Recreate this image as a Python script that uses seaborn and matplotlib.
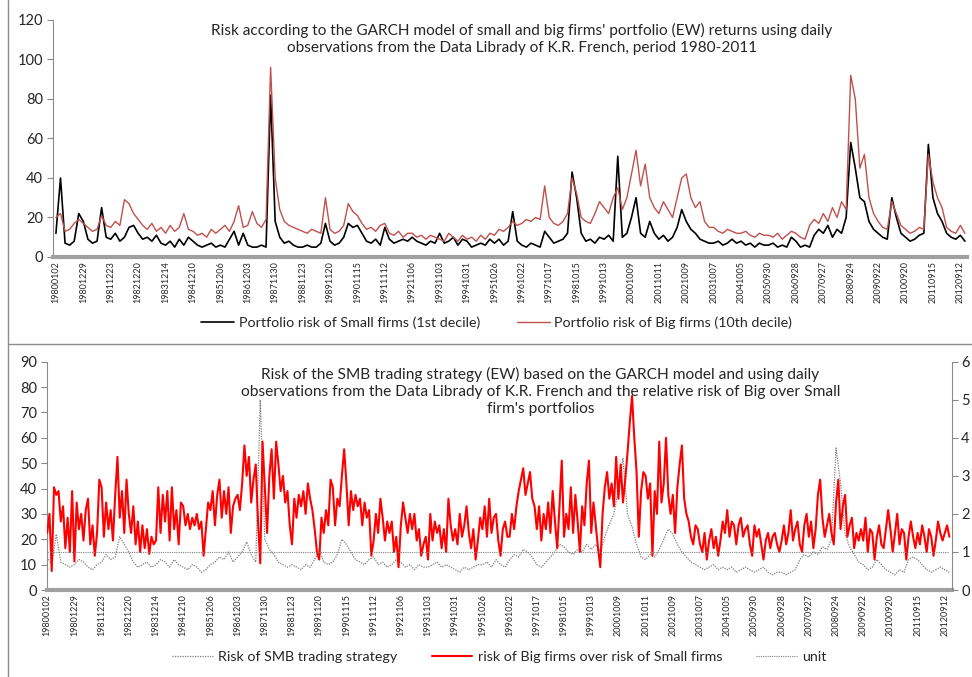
import numpy as np
import pandas as pd
import matplotlib
matplotlib.use("Agg")
import matplotlib.pyplot as plt
import seaborn as sns
from matplotlib.lines import Line2D

# ---------------- data ----------------
date_labels = ["19800102", "19801229", "19811223", "19821220", "19831214", "19841210",
               "19851206", "19861203", "19871130", "19881123", "19891120", "19901115",
               "19911112", "19921106", "19931103", "19941031", "19951026", "19961022",
               "19971017", "19981015", "19991013", "20001009", "20011011", "20021009",
               "20031007", "20041005", "20050930", "20060928", "20070927", "20080924",
               "20090922", "20100920", "20110915", "20120912"]
obs_per_label = 250

# top panel: portfolio risk, 6 readings per label interval
small_risk = [12, 40, 7, 6, 8, 22,
              18, 9, 7, 8, 25, 10,
              9, 12, 8, 10, 15, 16,
              12, 9, 10, 8, 11, 7,
              6, 8, 5, 9, 6, 10,
              8, 6, 5, 6, 7, 5,
              6, 5, 9, 13, 6, 12,
              6, 5, 5, 6, 5, 82,
              18, 10, 7, 8, 6, 5,
              5, 6, 5, 5, 7, 17,
              8, 6, 7, 10, 17, 15,
              16, 12, 8, 7, 9, 6,
              15, 9, 7, 8, 9, 8,
              10, 8, 7, 6, 8, 7,
              12, 7, 8, 10, 6, 9,
              8, 5, 6, 7, 6, 9,
              7, 9, 6, 8, 23, 8,
              6, 5, 7, 6, 5, 13,
              10, 7, 8, 9, 12, 43,
              30, 12, 8, 9, 7, 10,
              9, 11, 8, 51, 10, 12,
              20, 30, 12, 10, 18, 12,
              9, 11, 8, 10, 15, 24,
              18, 14, 12, 9, 8, 7,
              7, 8, 6, 7, 9, 7,
              8, 6, 7, 5, 7, 6,
              6, 7, 5, 6, 5, 10,
              8, 5, 6, 5, 11, 14,
              12, 16, 10, 14, 12, 20,
              58, 45, 30, 28, 18, 14,
              12, 10, 9, 30, 20, 12,
              10, 8, 9, 11, 12, 57,
              30, 22, 18, 12, 10, 9, 11, 8]

big_risk = [20, 22, 13, 14, 17, 19,
            17, 15, 13, 14, 21, 16,
            15, 18, 16, 29, 27, 22,
            19, 16, 14, 17, 13, 15,
            12, 16, 13, 15, 22, 14,
            13, 11, 12, 10, 14, 12,
            14, 16, 13, 18, 26, 15,
            16, 23, 17, 15, 19, 96,
            40, 24, 18, 16, 15, 14,
            13, 12, 14, 13, 12, 30,
            14, 12, 13, 16, 27, 23,
            21, 17, 14, 15, 13, 16,
            17, 12, 11, 13, 10, 12,
            12, 10, 11, 9, 11, 10,
            9, 8, 12, 10, 8, 11,
            9, 10, 8, 11, 9, 12,
            11, 14, 13, 15, 18, 16,
            17, 19, 18, 20, 19, 36,
            20, 17, 16, 18, 22, 40,
            32, 20, 18, 17, 22, 28,
            25, 22, 30, 35, 24, 30,
            42, 54, 36, 47, 30, 25,
            22, 28, 24, 20, 30, 40,
            42, 30, 25, 28, 18, 15,
            15, 13, 12, 14, 13, 12,
            12, 13, 11, 10, 12, 11,
            11, 10, 12, 9, 11, 13,
            12, 10, 9, 16, 19, 17,
            22, 18, 25, 20, 28, 24,
            92, 80, 45, 52, 30, 22,
            18, 15, 14, 28, 22, 16,
            14, 12, 13, 15, 14, 52,
            38, 30, 25, 15, 13, 12, 16, 12]

# bottom panel: SMB risk (left axis), 6 readings per label interval
smb_risk = [13, 10, 22, 11, 10, 9,
            10, 12, 11, 9, 8, 10,
            11, 14, 12, 13, 21, 18,
            15, 11, 9, 10, 11, 9,
            10, 12, 11, 9, 12, 10,
            9, 8, 10, 9, 7, 8,
            10, 11, 13, 12, 15, 11,
            13, 15, 19, 14, 11, 75,
            20, 16, 14, 11, 10, 9,
            10, 9, 8, 10, 9, 12,
            16, 11, 10, 11, 14, 20,
            18, 15, 12, 11, 10, 12,
            13, 10, 11, 9, 10, 12,
            11, 9, 10, 8, 10, 9,
            9, 10, 11, 9, 10, 9,
            8, 7, 9, 8, 9, 10,
            10, 11, 9, 12, 10, 9,
            12, 14, 13, 16, 15, 13,
            10, 9, 11, 13, 15, 18,
            17, 15, 14, 16, 15, 18,
            16, 18, 15, 21, 26, 30,
            40, 52, 30, 25, 18, 13,
            12, 14, 13, 16, 20, 24,
            22, 18, 15, 13, 11, 10,
            9, 8, 9, 10, 8, 9,
            8, 9, 7, 8, 9, 8,
            7, 8, 9, 7, 6, 7,
            7, 6, 7, 8, 12, 14,
            13, 15, 14, 17, 16, 20,
            56, 42, 22, 17, 14, 11,
            10, 8, 9, 12, 10, 8,
            7, 6, 8, 7, 12, 13,
            12, 10, 8, 7, 8, 9, 8, 7]

# bottom panel: ratio big/small risk (right axis), 12 readings per label interval
big_over_small = [1.5, 2.0, 0.5, 2.7, 2.5, 2.6, 1.8, 2.2, 1.1, 1.9, 1.0, 2.6,
                  0.75, 2.3, 1.6, 2.0, 1.3, 2.1, 2.4, 1.2, 1.7, 0.9, 1.5, 2.9,
                  2.7, 1.4, 2.3, 1.6, 2.1, 1.3, 2.5, 3.5, 1.9, 2.6, 1.5, 2.9,
                  2.0, 1.5, 2.2, 1.2, 1.8, 1.0, 1.7, 1.1, 1.6, 0.95, 1.4, 1.2,
                  1.3, 2.7, 1.5, 2.5, 1.8, 2.6, 1.3, 2.7, 1.6, 2.1, 1.2, 2.3,
                  2.2, 1.7, 2.0, 1.6, 1.9, 1.7, 2.0, 1.6, 1.8, 0.9, 1.6, 2.3,
                  2.1, 2.6, 1.7, 2.5, 2.9, 1.9, 2.6, 2.0, 2.7, 1.5, 2.2, 2.4,
                  2.5, 2.1, 2.8, 3.8, 3.0, 3.5, 2.3, 2.9, 3.3, 1.8, 0.7, 3.9,
                  2.7, 1.5, 3.0, 3.7, 2.4, 3.9, 3.3, 2.6, 3.0, 2.3, 2.6, 1.7,
                  1.2, 2.4, 1.9, 2.5, 2.2, 2.6, 2.0, 2.8, 2.4, 2.1, 1.6, 1.0,
                  0.8, 1.9, 1.5, 2.1, 1.7, 2.9, 2.7, 1.7, 2.4, 2.2, 3.0, 3.7,
                  2.8, 1.7, 2.6, 2.1, 2.5, 2.2, 2.4, 1.7, 2.3, 1.9, 2.1, 0.9,
                  1.3, 2.0, 1.5, 2.4, 1.9, 1.3, 1.8, 1.5, 1.8, 1.0, 1.4, 0.6,
                  1.7, 2.3, 1.9, 1.5, 2.0, 1.6, 2.0, 1.3, 1.6, 0.9, 1.2, 1.4,
                  0.8, 2.0, 1.3, 1.8, 1.5, 1.7, 1.1, 1.6, 1.0, 2.4, 1.7, 1.3,
                  1.6, 1.2, 2.0, 1.4, 1.7, 2.2, 1.5, 1.1, 1.6, 0.8, 1.3, 1.9,
                  1.6, 2.2, 1.4, 2.4, 1.5, 1.9, 2.0, 1.3, 0.9, 1.6, 1.8, 1.4,
                  1.4, 2.0, 1.6, 2.2, 2.6, 2.9, 3.2, 2.5, 2.8, 3.1, 2.4, 2.2,
                  1.6, 2.2, 1.3, 2.0, 1.6, 2.3, 1.5, 2.6, 1.8, 1.1, 2.2, 3.4,
                  1.4, 2.0, 1.6, 2.7, 1.5, 2.5, 1.8, 1.0, 2.2, 1.7, 2.8, 3.4,
                  1.5, 2.3, 1.7, 1.1, 0.6, 2.0, 2.7, 3.1, 2.4, 2.8, 2.2, 3.5,
                  2.4, 3.3, 2.3, 2.9, 3.6, 4.4, 5.1, 4.0, 3.1, 1.4, 2.6, 3.1,
                  3.0, 2.4, 2.8, 0.9, 2.6, 2.0, 3.9, 2.3, 2.8, 4.0, 2.5, 2.0,
                  2.5, 1.5, 2.7, 3.3, 3.8, 2.4, 2.0, 1.8, 1.4, 1.2, 1.7, 1.6,
                  1.2, 1.0, 1.5, 0.8, 1.3, 1.6, 1.1, 1.4, 0.9, 1.3, 1.8, 1.5,
                  2.1, 1.4, 1.8, 1.7, 1.2, 1.7, 1.9, 1.4, 1.6, 1.7, 1.2, 0.9,
                  1.7, 1.4, 1.6, 1.2, 0.8, 1.3, 1.5, 1.1, 1.4, 1.5, 1.2, 1.0,
                  1.3, 1.7, 1.2, 1.5, 2.1, 1.3, 1.6, 1.8, 1.2, 1.0, 1.7, 2.0,
                  1.4, 1.8, 1.1, 1.6, 2.5, 2.9, 1.9, 1.4, 1.7, 2.0, 1.5, 1.2,
                  2.3, 2.9, 1.6, 2.2, 2.5, 1.4, 1.7, 1.9, 1.1, 1.5, 1.3, 1.6,
                  1.3, 1.9, 1.0, 1.6, 1.5, 0.8, 1.4, 1.7, 1.2, 1.1, 1.6, 2.1,
                  1.6, 1.0, 1.5, 2.0, 1.2, 1.6, 1.5, 0.8, 1.4, 1.8, 1.4, 1.1,
                  1.5, 1.2, 1.7, 1.4, 1.0, 1.6, 1.4, 0.9, 1.3, 1.8, 1.5, 1.3,
                  1.5, 1.7, 1.4]
unit_level = 1.0

# ---------------- figure ----------------
sns.set_theme(style="white")
plt.rcParams['font.family'] = ['Lato', 'DejaVu Sans']

TXT = '#262626'
AX_GRAY = '#8a8a8a'
N_OBS = 8312

fig = plt.figure(figsize=(9.72, 6.77), dpi=100)
ax1 = fig.add_axes([0.0545, 0.6204, 0.9405, 0.3501])
ax2 = fig.add_axes([0.048, 0.1285, 0.931, 0.3372])
ax3 = ax2.twinx()

top_df = pd.DataFrame({
    'obs': np.arange(len(small_risk)) * obs_per_label / 6,
    'small': small_risk,
    'big': big_risk,
})
smb_df = pd.DataFrame({
    'obs': np.arange(len(smb_risk)) * obs_per_label / 6,
    'smb': smb_risk,
})
ratio_df = pd.DataFrame({
    'obs': np.arange(len(big_over_small)) * obs_per_label / 12,
    'ratio': big_over_small,
})
ratio_df['unit'] = unit_level

sns.lineplot(data=top_df, x='obs', y='small', ax=ax1, color='black', lw=1.2)
sns.lineplot(data=top_df, x='obs', y='big', ax=ax1, color='#C0504D', lw=1.0)

sns.lineplot(data=smb_df, x='obs', y='smb', ax=ax2, color='#7f7f7f', lw=0.9,
             linestyle=(0, (1, 1)))
sns.lineplot(data=ratio_df, x='obs', y='ratio', ax=ax3, color='#FF0000', lw=1.5)
sns.lineplot(data=ratio_df, x='obs', y='unit', ax=ax3, color='#7f7f7f', lw=0.8,
             linestyle=(0, (1, 1)))

tick_pos = np.arange(len(date_labels)) * obs_per_label

# top axes styling
ax1.set_xlim(-27, N_OBS)
ax1.set_ylim(0, 120)
ax1.set_yticks(np.arange(0, 121, 20))
ax1.set_xticks(tick_pos)
ax1.set_xticklabels(date_labels, rotation=90, fontsize=6.5, color=TXT)
ax1.set_xlabel('')
ax1.set_ylabel('')

# bottom axes styling
for a in (ax2, ax3):
    a.set_xlim(-5, N_OBS)
ax2.set_ylim(0, 90)
ax2.set_yticks(np.arange(0, 91, 10))
ax3.set_ylim(0, 6)
ax3.set_yticks(np.arange(0, 7, 1))
ax2.set_xticks(tick_pos)
ax2.set_xticklabels(date_labels, rotation=90, fontsize=6.5, color=TXT)
for a in (ax2, ax3):
    a.set_xlabel('')
    a.set_ylabel('')

for a in (ax1, ax2):
    a.spines['top'].set_visible(False)
    a.spines['right'].set_visible(False)
    a.spines['left'].set_color(AX_GRAY)
    a.spines['left'].set_linewidth(0.8)
    a.spines['bottom'].set_color('#a0a0a0')
    a.spines['bottom'].set_linewidth(3)
    a.tick_params(axis='y', left=True, direction='out', length=4, width=0.8,
                  color=AX_GRAY, labelsize=10.5, labelcolor=TXT, pad=3)
    a.tick_params(axis='x', bottom=True, length=0, pad=3)
for s in ('top', 'left', 'bottom'):
    ax3.spines[s].set_visible(False)
ax3.spines['right'].set_color(AX_GRAY)
ax3.spines['right'].set_linewidth(0.8)
ax3.tick_params(axis='y', right=True, direction='out', length=4, width=0.8,
                color=AX_GRAY, labelsize=10.5, labelcolor=TXT, pad=3)

# titles
fig.text(0.537, 0.942,
         "Risk according to the GARCH model of small and big firms' portfolio (EW) returns using daily\n"
         "observations from the Data Librady of K.R. French, period 1980-2011",
         ha='center', va='center', fontsize=11.1, color=TXT, linespacing=1.3)
fig.text(0.556, 0.4217,
         "Risk of the SMB trading strategy (EW) based on the GARCH model and using daily\n"
         "observations from the Data Librady of K.R. French and the relative risk of Big over Small\n"
         "firm's portfolios",
         ha='center', va='center', fontsize=11.2, color=TXT, linespacing=1.27)

# legends
h_top = [Line2D([], [], color='black', lw=1.2), Line2D([], [], color='#C0504D', lw=1.0)]
fig.legend(h_top, ["Portfolio risk of Small firms (1st decile)",
                   "Portfolio risk of Big firms (10th decile)"],
           loc='center', bbox_to_anchor=(0.511, 0.523), ncol=2, frameon=False,
           fontsize=10.3, handlelength=2.3, columnspacing=2.6, handletextpad=0.3,
           labelcolor=TXT)
h_bot = [Line2D([], [], color='#7f7f7f', lw=0.9, linestyle=(0, (1, 1))),
         Line2D([], [], color='#FF0000', lw=1.5),
         Line2D([], [], color='#7f7f7f', lw=0.8, linestyle=(0, (1, 1)))]
fig.legend(h_bot, ["Risk of SMB trading strategy",
                   "risk of Big firms over risk of Small firms", "unit"],
           loc='center', bbox_to_anchor=(0.514, 0.0295), ncol=3, frameon=False,
           fontsize=10.3, handlelength=2.8, columnspacing=2.4, handletextpad=0.4,
           labelcolor=TXT)

# chart borders
fig.add_artist(Line2D([7.5 / 972, 7.5 / 972], [0, 1], transform=fig.transFigure,
                      color='#8c8c8c', lw=1))
fig.add_artist(Line2D([7.5 / 972, 1], [1 - 344 / 677, 1 - 344 / 677],
                      transform=fig.transFigure, color='#8c8c8c', lw=1))

fig.savefig('out.png', dpi=100)
